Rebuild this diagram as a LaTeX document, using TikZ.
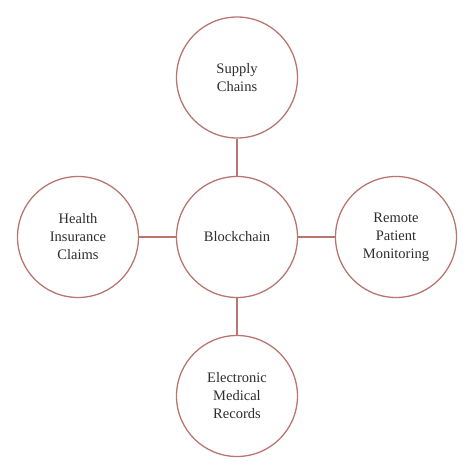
\documentclass[tikz,border=0pt]{standalone}
\usepackage{fontspec}
\setmainfont{Liberation Serif}
\definecolor{ring}{RGB}{184,118,112}
\definecolor{txt}{RGB}{45,45,45}
\begin{document}
\begin{tikzpicture}[x=1pt,y=-1pt,
  bubble/.style={circle,draw=ring,line width=1.3pt,minimum size=121pt,inner sep=0pt,
    align=center,font=\fontsize{14.5}{18}\selectfont,text=txt},
  link/.style={draw=ring,line width=1.3pt}]
\useasboundingbox (0,0) rectangle (474,474);
\node[bubble] (c) at (237,237) {Blockchain};
\node[bubble] (t) at (237,77.5) {Supply\\Chains};
\node[bubble] (l) at (78,237) {Health\\Insurance\\Claims};
\node[bubble] (r) at (396,237) {Remote\\Patient\\Monitoring};
\node[bubble] (b) at (237,396) {Electronic\\Medical\\Records};
\draw[link] (c) -- (t);
\draw[link] (c) -- (l);
\draw[link] (c) -- (r);
\draw[link] (c) -- (b);
\end{tikzpicture}
\end{document}
